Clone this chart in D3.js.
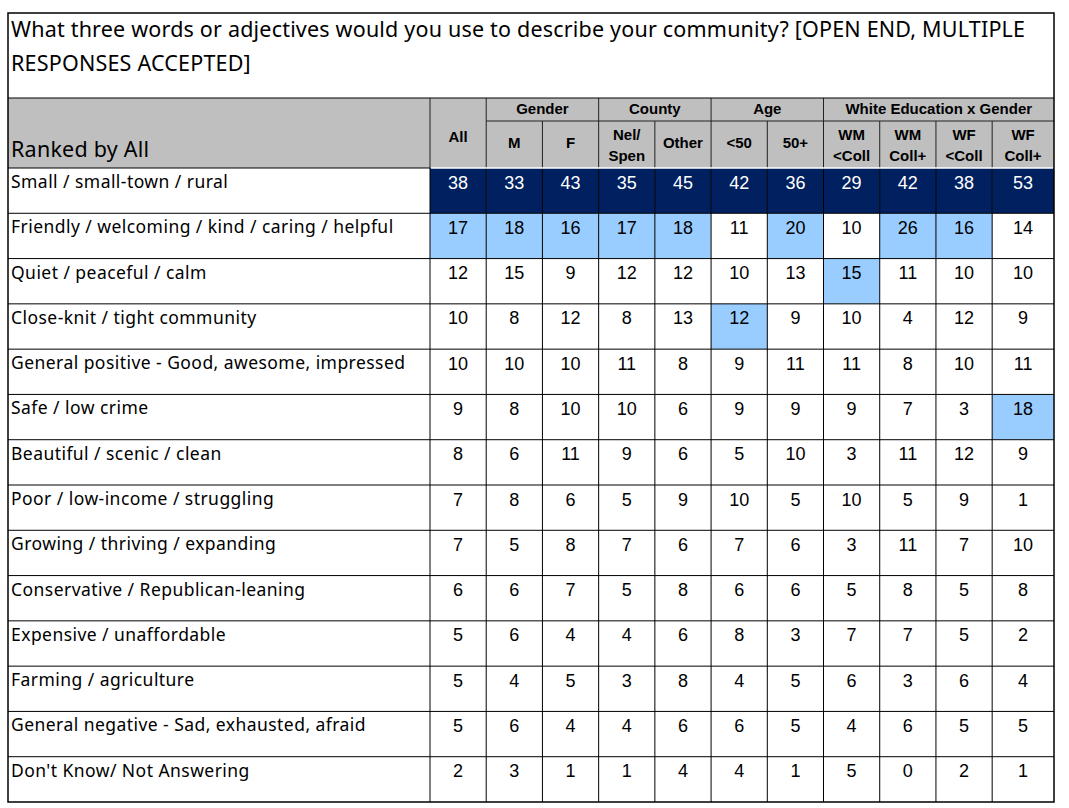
<!DOCTYPE html>
<html>
<head>
<meta charset="utf-8">
<script src="https://cdn.jsdelivr.net/npm/d3@7"></script>
<style>
  body { margin: 0; background: #fff; }
  svg { display: block; }
  .lbl { font-family: "Noto Sans", sans-serif; fill: #000; }
  .num { font-family: "Liberation Sans", Arial, sans-serif; font-size: 18px; text-anchor: middle; }
  .hdr { font-family: "Liberation Sans", Arial, sans-serif; font-weight: bold; font-size: 15px; text-anchor: middle; fill: #000; }
</style>
</head>
<body>
<svg id="chart" width="1069" height="808"></svg>
<script>
// ---- data ----
const titleLines = [
  "What three words or adjectives would you use to describe your community? [OPEN END, MULTIPLE",
  "RESPONSES ACCEPTED]"
];
const cornerLabel = "Ranked by All";

const rowLabels = [
  "Small / small-town / rural",
  "Friendly / welcoming / kind / caring / helpful",
  "Quiet / peaceful / calm",
  "Close-knit / tight community",
  "General positive - Good, awesome, impressed",
  "Safe / low crime",
  "Beautiful / scenic / clean",
  "Poor / low-income / struggling",
  "Growing / thriving / expanding",
  "Conservative / Republican-leaning",
  "Expensive / unaffordable",
  "Farming / agriculture",
  "General negative - Sad, exhausted, afraid",
  "Don't Know/ Not Answering"
];

const columnHeaders = [
  ["All"], ["M"], ["F"], ["Nel/", "Spen"], ["Other"], ["<50"], ["50+"],
  ["WM", "<Coll"], ["WM", "Coll+"], ["WF", "<Coll"], ["WF", "Coll+"]
];

const groupNames = ["Gender", "County", "Age", "White Education x Gender"];
const groupFirstCol = [1, 3, 5, 7];
const groupColCount = [2, 2, 2, 4];

// one array per row, columns in the order of columnHeaders
const values = [
  [38, 33, 43, 35, 45, 42, 36, 29, 42, 38, 53],
  [17, 18, 16, 17, 18, 11, 20, 10, 26, 16, 14],
  [12, 15, 9, 12, 12, 10, 13, 15, 11, 10, 10],
  [10, 8, 12, 8, 13, 12, 9, 10, 4, 12, 9],
  [10, 10, 10, 11, 8, 9, 11, 11, 8, 10, 11],
  [9, 8, 10, 10, 6, 9, 9, 9, 7, 3, 18],
  [8, 6, 11, 9, 6, 5, 10, 3, 11, 12, 9],
  [7, 8, 6, 5, 9, 10, 5, 10, 5, 9, 1],
  [7, 5, 8, 7, 6, 7, 6, 3, 11, 7, 10],
  [6, 6, 7, 5, 8, 6, 6, 5, 8, 5, 8],
  [5, 6, 4, 4, 6, 8, 3, 7, 7, 5, 2],
  [5, 4, 5, 3, 8, 4, 5, 6, 3, 6, 4],
  [5, 6, 4, 4, 6, 6, 5, 4, 6, 5, 5],
  [2, 3, 1, 1, 4, 4, 1, 5, 0, 2, 1]
];

// ---- layout ----
const LEFT = 8, RIGHT = 1054, TOP = 13, BOTTOM = 802;
const HEAD_TOP = 98, GROUP_LINE = 121, HEAD_BOTTOM = 168;
const LABEL_RIGHT = 430;
const colUnits = [1, 1, 1, 1, 1, 1, 1, 1, 1, 1, 1.1];
const DARK = "#002060", LIGHT = "#99CCFF", GRAY = "#BFBFBF";

const svg = d3.select("#chart");

const colStart = d3.cumsum([0].concat(colUnits)); // edges in units
const x = d3.scaleLinear().domain([0, d3.sum(colUnits)]).range([LABEL_RIGHT, RIGHT]);
const y = d3.scaleBand().domain(rowLabels).range([HEAD_BOTTOM, BOTTOM]);
const colX = i => x(colStart[i]);
const colW = i => x(colStart[i + 1]) - x(colStart[i]);

// spread letters so a text node spans the width measured on the reference
function spacingFor(node, target) {
  const len = node.getComputedTextLength();
  const n = node.textContent.length;
  return (target - len) / Math.max(1, n - 1);
}

// highlight: highest in each column dark, second highest light
const colRank = columnHeaders.map((c, j) => {
  const sorted = values.map(r => r[j]).sort(d3.descending);
  return { first: sorted[0], second: sorted[1] };
});
function fillFor(v, j) {
  if (v === colRank[j].first) return DARK;
  if (v === colRank[j].second) return LIGHT;
  return "#fff";
}

// ---- title ----
const title = svg.append("text")
  .attr("class", "lbl")
  .attr("font-size", 21.5);
title.selectAll("tspan")
  .data(titleLines)
  .join("tspan")
  .attr("x", 11)
  .attr("y", (d, i) => 37 + i * 33.5)
  .text(d => d);
title.attr("letter-spacing", spacingFor(title.select("tspan").node(), 1014));

// ---- header ----
svg.append("rect")
  .attr("x", LEFT).attr("y", HEAD_TOP)
  .attr("width", RIGHT - LEFT).attr("height", HEAD_BOTTOM - HEAD_TOP)
  .attr("fill", GRAY);

const corner = svg.append("text")
  .attr("class", "lbl")
  .attr("font-size", 21.5)
  .attr("x", 11).attr("y", 157)
  .text(cornerLabel);
corner.attr("letter-spacing", spacingFor(corner.node(), 138));

// group titles
groupNames.forEach((g, k) => {
  const a = colX(groupFirstCol[k]);
  const b = colX(groupFirstCol[k] + groupColCount[k]);
  svg.append("text").attr("class", "hdr")
    .attr("x", (a + b) / 2).attr("y", 114)
    .text(g);
});

// column headers
columnHeaders.forEach((lines, j) => {
  const cx = colX(j) + colW(j) / 2;
  let ys;
  if (j === 0) ys = [142];
  else if (lines.length === 1) ys = [148];
  else ys = [140, 161];
  const t = svg.append("text").attr("class", "hdr");
  t.selectAll("tspan").data(lines).join("tspan")
    .attr("x", cx).attr("y", (d, i) => ys[i]).text(d => d);
});

// header lines
const hdrLines = svg.append("g").attr("stroke", "#222").attr("stroke-width", 1);
hdrLines.append("line")
  .attr("x1", colX(1)).attr("x2", RIGHT)
  .attr("y1", GROUP_LINE).attr("y2", GROUP_LINE);
columnHeaders.forEach((c, j) => {
  const isFull = j <= 1 || groupFirstCol.includes(j);
  hdrLines.append("line")
    .attr("x1", colX(j)).attr("x2", colX(j))
    .attr("y1", isFull ? HEAD_TOP : GROUP_LINE).attr("y2", HEAD_BOTTOM);
});

// ---- body cells ----
const rows = svg.append("g").selectAll("g")
  .data(values)
  .join("g")
  .attr("transform", (d, i) => `translate(0,${y(rowLabels[i])})`);

rows.selectAll("rect")
  .data(d => d)
  .join("rect")
  .attr("x", (v, j) => colX(j))
  .attr("y", 0)
  .attr("width", (v, j) => colW(j))
  .attr("height", y.bandwidth())
  .attr("fill", (v, j) => fillFor(v, j));

rows.selectAll("text.num")
  .data(d => d)
  .join("text")
  .attr("class", "num")
  .attr("x", (v, j) => colX(j) + colW(j) / 2)
  .attr("y", 20.5)
  .attr("fill", (v, j) => fillFor(v, j) === DARK ? "#fff" : "#000")
  .text(v => v);

const labels = rows.append("text")
  .attr("class", "lbl")
  .attr("font-size", 17.5)
  .attr("x", 11)
  .attr("y", 20)
  .text((d, i) => rowLabels[i]);
// longest label spans 11 -> 405 on the reference
const longest = labels.filter((d, i) => i === 4).node();
labels.attr("letter-spacing", spacingFor(longest, 394));

// ---- body grid ----
const grid = svg.append("g").attr("stroke", "#000").attr("stroke-width", 1);
grid.selectAll("line.h")
  .data(rowLabels.slice(1))
  .join("line")
  .attr("x1", LEFT).attr("x2", RIGHT)
  .attr("y1", d => y(d)).attr("y2", d => y(d));
grid.selectAll("line.v")
  .data(columnHeaders.map((c, j) => colX(j)))
  .join("line")
  .attr("x1", d => d).attr("x2", d => d)
  .attr("y1", HEAD_BOTTOM).attr("y2", BOTTOM);

// separator between header and body
svg.append("line")
  .attr("x1", LEFT).attr("x2", LABEL_RIGHT)
  .attr("y1", HEAD_BOTTOM).attr("y2", HEAD_BOTTOM)
  .attr("stroke", "#000");
svg.append("line")
  .attr("x1", LABEL_RIGHT + 1).attr("x2", RIGHT - 1)
  .attr("y1", HEAD_BOTTOM).attr("y2", HEAD_BOTTOM)
  .attr("stroke", "#fff").attr("stroke-width", 1.5);

// title / header divider and outer box
svg.append("line")
  .attr("x1", LEFT).attr("x2", RIGHT)
  .attr("y1", HEAD_TOP).attr("y2", HEAD_TOP)
  .attr("stroke", "#000");
svg.append("rect")
  .attr("x", LEFT).attr("y", TOP)
  .attr("width", RIGHT - LEFT).attr("height", BOTTOM - TOP)
  .attr("fill", "none").attr("stroke", "#000").attr("stroke-width", 1.5);
</script>
</body>
</html>
